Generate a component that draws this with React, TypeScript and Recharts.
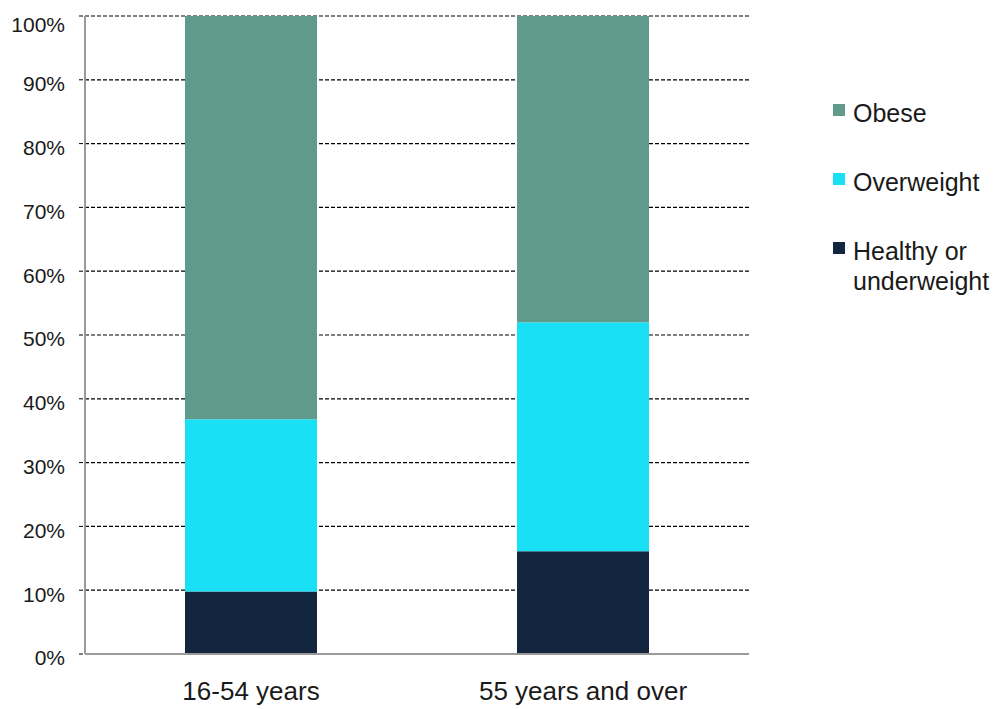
import { BarChart, Bar, XAxis, YAxis, CartesianGrid } from "recharts";

const FONT = '"Liberation Sans", Arial, Helvetica, sans-serif';

const categories = ["16-54 years", "55 years and over"];
const healthy = [9.8, 16.1];
const overweight = [27.0, 35.9];
const obese = [63.2, 48.0];

const yTicks = [0, 10, 20, 30, 40, 50, 60, 70, 80, 90, 100];

// stacked bottom to top
const series = [
  { key: "healthy", name: "Healthy or underweight", color: "#14253f" },
  { key: "overweight", name: "Overweight", color: "#1ae0f5" },
  { key: "obese", name: "Obese", color: "#5f9a8a" },
];

const data = categories.map((name, i) => ({
  name,
  healthy: healthy[i],
  overweight: overweight[i],
  obese: obese[i],
}));

function StackLegend() {
  // legend lists the top segment first
  const items = [...series].reverse();
  return (
    <div
      style={{
        position: "absolute",
        left: 825,
        top: 90,
        width: 170,
        fontFamily: FONT,
        fontSize: 25,
        lineHeight: "30px",
        color: "#1a1a1a",
      }}
    >
      {items.map((s) => (
        <div key={s.key} style={{ display: "flex", alignItems: "flex-start", marginBottom: 39 }}>
          <span
            style={{
              display: "inline-block",
              width: 12,
              height: 12,
              background: s.color,
              marginTop: 6,
              marginRight: 8,
              flexShrink: 0,
            }}
          />
          <span style={{ width: 150 }}>{s.name}</span>
        </div>
      ))}
    </div>
  );
}

export default function App() {
  return (
    <div style={{ position: "relative", width: 996, height: 700 }}>
      <BarChart
        width={996}
        height={700}
        data={data}
        margin={{ top: 8, right: 255, bottom: 14, left: 0 }}
      >
        <CartesianGrid vertical={false} stroke="#000" strokeWidth={1.2} strokeDasharray="4 2" />
        {/* tick marks between the categories */}
        <XAxis
          xAxisId="edges"
          type="number"
          domain={[0, 2]}
          ticks={[0, 1, 2]}
          allowDataOverflow
          height={0}
          tick={false}
          tickSize={6}
          tickLine={{ stroke: "#9a9a9a" }}
          axisLine={false}
        />
        <XAxis
          dataKey="name"
          height={40}
          tickLine={false}
          tickSize={0}
          tickMargin={28}
          axisLine={{ stroke: "#9a9a9a", strokeWidth: 2 }}
          tick={{ fontFamily: FONT, fontSize: 26, fill: "#1a1a1a" }}
        />
        <YAxis
          width={77}
          domain={[0, 100]}
          ticks={yTicks}
          allowDataOverflow
          tickFormatter={(v: number) => `${v}%`}
          tickSize={6}
          tickMargin={14}
          tickLine={{ stroke: "#000", strokeDasharray: "4 2" }}
          axisLine={{ stroke: "#9a9a9a", strokeWidth: 2 }}
          tick={{ fontFamily: FONT, fontSize: 21, fill: "#1a1a1a", dy: 4 }}
        />
        {series.map((s) => (
          <Bar
            key={s.key}
            dataKey={s.key}
            name={s.name}
            stackId="bmi"
            fill={s.color}
            barSize={132}
            isAnimationActive={false}
          />
        ))}
      </BarChart>
      <StackLegend />
    </div>
  );
}
